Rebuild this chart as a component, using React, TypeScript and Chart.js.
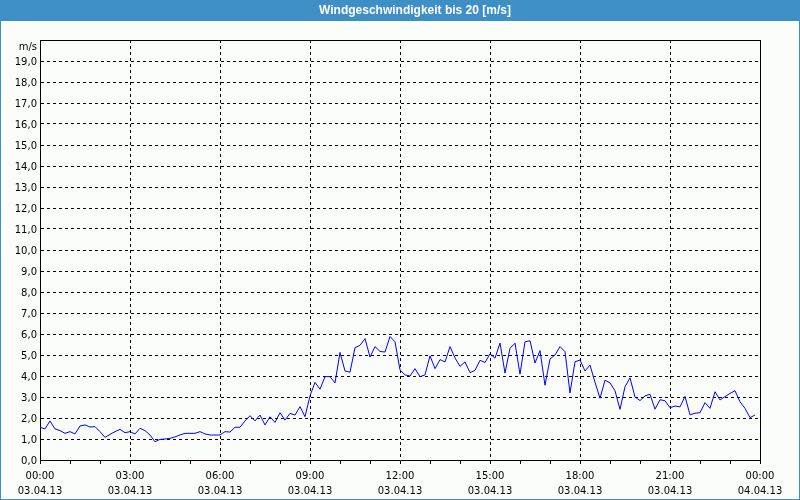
import React, { useEffect, useRef } from 'react';
import { Chart, registerables } from 'chart.js';

Chart.register(...registerables);

const TITLE = 'Windgeschwindigkeit bis 20 [m/s]';
const UNIT = 'm/s';
const DATE_START = '03.04.13';
const DATE_END = '04.04.13';
const INTERVAL_MINUTES = 10;
const DAY_MINUTES = 1440;
const Y_MIN = 0;
const Y_MAX = 20;
const LABEL_EVERY_MINUTES = 180;
const TICK_EVERY_MINUTES = 60;

// wind speed in m/s, one reading every 10 minutes from 00:00 to 23:50
const SPEEDS = [
  1.56, 1.48, 1.86, 1.48, 1.40, 1.27, 1.35, 1.24, 1.62, 1.67, 1.57, 1.59,
  1.35, 1.08, 1.22, 1.35, 1.46, 1.30, 1.35, 1.24, 1.51, 1.40, 1.19, 0.87,
  0.98, 1.00, 1.03, 1.10, 1.19, 1.27, 1.27, 1.27, 1.35, 1.24, 1.19, 1.19,
  1.19, 1.35, 1.33, 1.56, 1.56, 1.86, 2.11, 1.86, 2.14, 1.67, 2.06, 1.79,
  2.25, 1.90, 2.22, 2.14, 2.54, 2.06, 3.05, 3.70, 3.37, 3.97, 3.97, 3.67,
  5.12, 4.24, 4.18, 5.35, 5.46, 5.78, 4.90, 5.40, 5.17, 5.14, 5.88, 5.63,
  4.29, 4.05, 4.00, 4.35, 3.97, 4.05, 4.96, 4.35, 4.78, 4.67, 5.40, 4.86,
  4.46, 4.67, 4.16, 4.27, 4.75, 4.64, 5.06, 4.85, 5.57, 4.14, 5.32, 5.56,
  4.09, 5.63, 5.68, 4.62, 5.21, 3.56, 4.81, 5.00, 5.40, 5.16, 3.19, 4.68,
  4.76, 4.24, 4.52, 3.70, 2.94, 3.80, 3.67, 3.30, 2.41, 3.49, 3.91, 3.00,
  2.83, 3.05, 3.13, 2.42, 2.87, 2.82, 2.49, 2.57, 2.53, 3.03, 2.15, 2.23,
  2.25, 2.73, 2.46, 3.25, 2.86, 3.02, 3.17, 3.30, 2.77, 2.46, 2.02, 2.14,
];

const FRAME_BLUE = '#3d8fc6';
const BG = '#fbfdfb';
const FONT = '"DejaVu Sans", Verdana, sans-serif';

const pad2 = (n: number) => (n < 10 ? '0' + n : String(n));

const framePlugin = {
  id: 'frame',
  beforeDraw(chart: any) {
    const { ctx, width, height } = chart;
    ctx.save();
    ctx.fillStyle = BG;
    ctx.fillRect(0, 0, width, height);
    ctx.fillStyle = FRAME_BLUE;
    ctx.fillRect(0, 0, width, 21);
    ctx.strokeStyle = FRAME_BLUE;
    ctx.lineWidth = 1;
    ctx.strokeRect(0.5, 0.5, width - 1, height - 1);
    ctx.fillStyle = '#ffffff';
    ctx.font = 'bold 12px "Liberation Sans", Arial, sans-serif';
    ctx.textAlign = 'center';
    ctx.textBaseline = 'middle';
    ctx.fillText(TITLE, 415, 10.5);
    ctx.restore();
  },
  afterDraw(chart: any) {
    const { ctx, chartArea } = chart;
    const { left, right, top, bottom } = chartArea;
    ctx.save();
    ctx.strokeStyle = '#000000';
    ctx.lineWidth = 1;
    ctx.beginPath();
    ctx.moveTo(Math.round(left), Math.round(top) + 0.5);
    ctx.lineTo(Math.round(right) + 1, Math.round(top) + 0.5);
    ctx.moveTo(Math.round(right) + 0.5, Math.round(top));
    ctx.lineTo(Math.round(right) + 0.5, Math.round(bottom) + 1);
    ctx.stroke();
    ctx.fillStyle = '#000000';
    ctx.font = '10px ' + FONT;
    ctx.textAlign = 'right';
    ctx.textBaseline = 'middle';
    ctx.fillText(UNIT, left - 3, top + 7);
    ctx.restore();
  },
};

export default function App() {
  const canvasRef = useRef<HTMLCanvasElement | null>(null);

  useEffect(() => {
    const canvas = canvasRef.current;
    if (!canvas) return;
    const points = SPEEDS.map((v, i) => ({ x: i * INTERVAL_MINUTES, y: v }));
    const chart = new Chart(canvas, {
      type: 'line',
      data: {
        datasets: [
          {
            data: points,
            borderColor: '#0000ff',
            borderWidth: 1,
            pointRadius: 0,
            tension: 0,
            fill: false,
          },
        ],
      },
      options: {
        animation: false,
        responsive: false,
        maintainAspectRatio: false,
        layout: { padding: { left: 0, top: 40, right: 40, bottom: 0 } },
        plugins: {
          legend: { display: false },
          tooltip: { enabled: false },
          title: { display: false },
        },
        scales: {
          x: {
            type: 'linear',
            min: 0,
            max: DAY_MINUTES,
            afterFit: (s: any) => {
              s.height = 40;
            },
            border: { display: true, color: '#000000', width: 1, dash: [3, 3] },
            grid: {
              drawOnChartArea: true,
              drawTicks: true,
              tickLength: 4,
              tickColor: '#000000',
              color: (c: any) =>
                c.tick && c.tick.value % LABEL_EVERY_MINUTES === 0 ? '#000000' : 'rgba(0,0,0,0)',
            },
            ticks: {
              stepSize: TICK_EVERY_MINUTES,
              autoSkip: false,
              maxRotation: 0,
              padding: 5,
              color: '#000000',
              font: { family: FONT, size: 10, lineHeight: 1.5 },
              callback: (value: any) => {
                const v = Number(value);
                if (v % LABEL_EVERY_MINUTES !== 0) return '';
                const h = Math.round(v / 60) % 24;
                return [pad2(h) + ':00', v >= DAY_MINUTES ? DATE_END : DATE_START];
              },
            },
          },
          y: {
            type: 'linear',
            min: Y_MIN,
            max: Y_MAX,
            afterFit: (s: any) => {
              s.width = 40;
            },
            border: { display: true, color: '#000000', width: 1, dash: [3, 3] },
            grid: {
              drawOnChartArea: true,
              drawTicks: false,
              color: '#000000',
            },
            ticks: {
              stepSize: 1,
              autoSkip: false,
              padding: 3,
              labelOffset: 1,
              color: '#000000',
              font: { family: FONT, size: 10 },
              callback: (value: any) => {
                const v = Number(value);
                if (v >= Y_MAX) return '';
                return v.toFixed(1).replace('.', ',');
              },
            },
          },
        },
      },
      plugins: [framePlugin],
    });
    return () => chart.destroy();
  }, []);

  return (
    <div style={{ position: 'absolute', left: 0, top: 0, width: 800, height: 500 }}>
      <canvas ref={canvasRef} width={800} height={500} style={{ display: 'block', width: 800, height: 500 }} />
    </div>
  );
}
